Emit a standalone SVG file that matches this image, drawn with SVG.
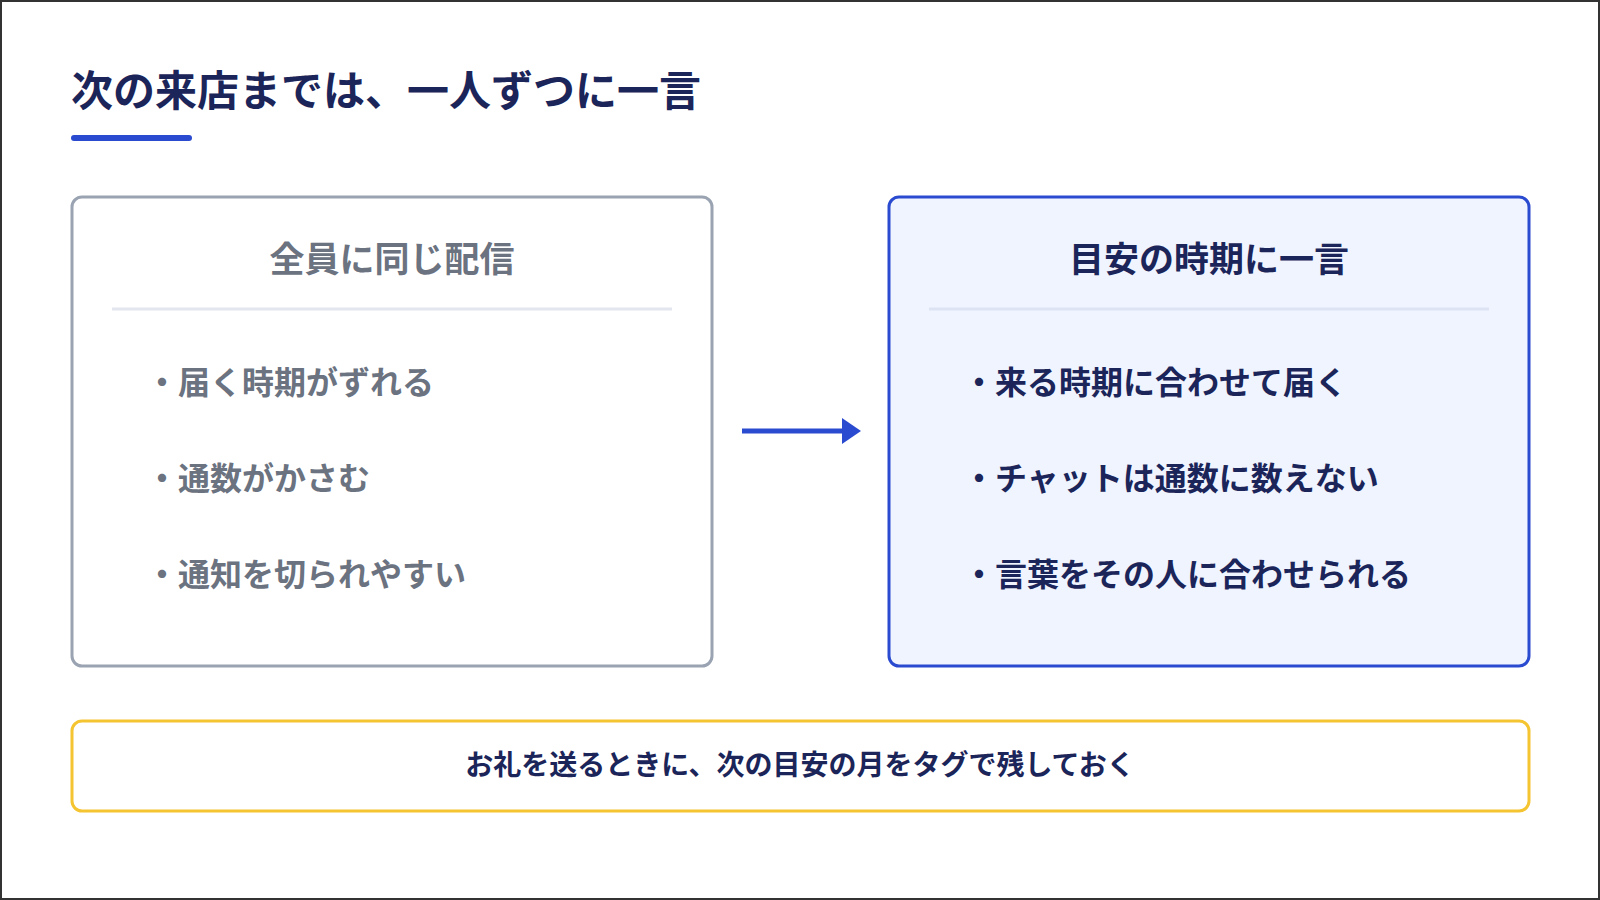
<svg xmlns="http://www.w3.org/2000/svg" width="1600" height="900" viewBox="0 0 1600 900">
<style>
text{font-family:"Noto Sans CJK JP","Noto Sans",sans-serif;font-weight:700}
.g{fill:#6b7280}.n{fill:#1b2559}
.bt{font-size:35px;text-anchor:middle}
.it{font-size:32px}
</style>
<defs><marker id="ah" markerWidth="10" markerHeight="10" refX="8" refY="5" orient="auto" markerUnits="userSpaceOnUse"><path d="M0,0 L18,5 L0,10Z" fill="#2a4bd0" transform="scale(1,1)"/></marker></defs>
<rect x="1" y="1" width="1598" height="898" fill="#fff" stroke="#333" stroke-width="2"/>
<g id="title"><text x="71" y="106" font-size="42" class="n">次の来店までは、一人ずつに一言</text>
<rect x="71" y="135" width="121" height="6" rx="3" fill="#2a4bd0"/></g>
<g id="left"><rect x="72" y="197" width="640" height="469" rx="10" fill="#fff" stroke="#9aa3b2" stroke-width="3"/>
<text x="392" y="272" class="bt g">全員に同じ配信</text>
<line x1="112" y1="309" x2="672" y2="309" stroke="#e3e6ee" stroke-width="3"/>
<text x="146" y="394" class="it g">・届く時期がずれる</text>
<text x="146" y="490" class="it g">・通数がかさむ</text>
<text x="146" y="586" class="it g">・通知を切られやすい</text></g>
<g id="right"><rect x="889" y="197" width="640" height="469" rx="10" fill="#eff4fe" stroke="#2a4bd0" stroke-width="3"/>
<text x="1209" y="272" class="bt n">目安の時期に一言</text>
<line x1="929" y1="309" x2="1489" y2="309" stroke="#dde3f3" stroke-width="3"/>
<text x="963" y="394" class="it n">・来る時期に合わせて届く</text>
<text x="963" y="490" class="it n">・チャットは通数に数えない</text>
<text x="963" y="586" class="it n">・言葉をその人に合わせられる</text></g>
<g id="connectors"><line x1="742" y1="431" x2="846" y2="431" stroke="#2a4bd0" stroke-width="5"/>
<path d="M842,418 L861,431 L842,444Z" fill="#2a4bd0"/></g>
<g id="note"><rect x="72" y="721" width="1457" height="90" rx="10" fill="#fff" stroke="#f5c431" stroke-width="3"/>
<text x="800" y="775" font-size="28" text-anchor="middle" class="n">お礼を送るときに、次の目安の月をタグで残しておく</text></g>
</svg>
